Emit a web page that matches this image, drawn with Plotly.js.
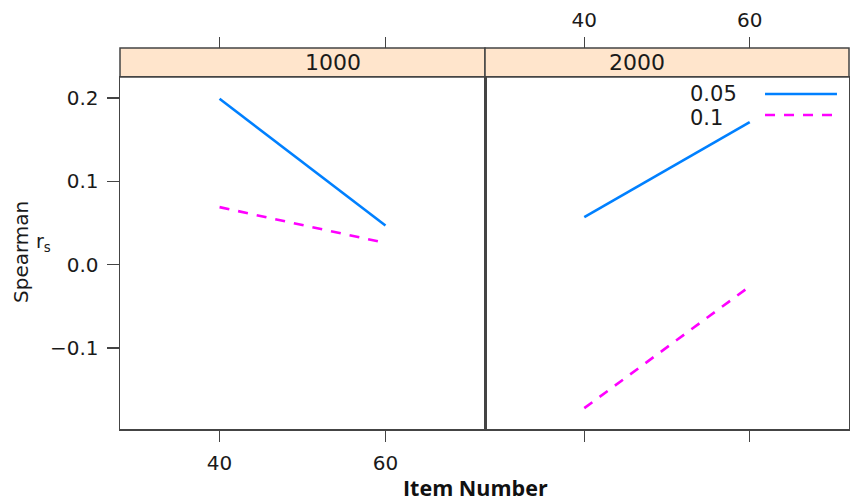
<!DOCTYPE html>
<html>
<head>
<meta charset="utf-8">
<script src="https://cdn.plot.ly/plotly-3.0.1.min.js"></script>
<style>html,body{margin:0;padding:0;background:#fff;}#chart{width:850px;height:504px;}</style>
</head>
<body>
<div id="chart"></div>
<script>
// ---- data ----
var itemNumber = [40, 60];
var panels = ["1000", "2000"];
var alphaLevels = ["0.05", "0.1"];
var rs_1000_005 = [0.199, 0.047];
var rs_1000_01  = [0.069, 0.026];
var rs_2000_005 = [0.057, 0.171];
var rs_2000_01  = [-0.172, -0.026];
var xTicks = [40, 60];
var yTicks = [-0.1, 0.0, 0.1, 0.2];
var yTickText = ["\u22120.1", "0.0", "0.1", "0.2"];

var blue = "#0080ff", magenta = "#ff00ff";
var axisCol = "#444444";
var tickFont = {family: "DejaVu Sans", size: 20, color: "#1a1a1a"};
var D1 = [0, 0.5007], D2 = [0.5007, 1];
var yTop = 352 / 381;
var xr = [28, 72], yr = [-0.197, 0.225];

function line(x, y, xa, ya, col, dash, name) {
  return {x: x, y: y, xaxis: xa, yaxis: ya, mode: "lines", name: name,
    line: {color: col, width: 2.6, dash: dash}, showlegend: false, hoverinfo: "skip"};
}
var dashPat = "10px,9px";
var data = [
  line(itemNumber, rs_1000_005, "x", "y", blue, "solid", alphaLevels[0]),
  line(itemNumber, rs_1000_01, "x", "y", magenta, dashPat, alphaLevels[1]),
  line(itemNumber, rs_2000_005, "x2", "y2", blue, "solid", alphaLevels[0]),
  line(itemNumber, rs_2000_01, "x2", "y2", magenta, dashPat, alphaLevels[1]),
  // carriers for the top (overlay) axes
  {x: itemNumber, y: rs_1000_005, xaxis: "x3", yaxis: "y", mode: "lines", line: {width: 0}, opacity: 0, showlegend: false, hoverinfo: "skip"},
  {x: itemNumber, y: rs_2000_005, xaxis: "x4", yaxis: "y2", mode: "lines", line: {width: 0}, opacity: 0, showlegend: false, hoverinfo: "skip"}
];

function xa(domain, anchor, labels) {
  return {domain: domain, anchor: anchor, range: xr, tickvals: xTicks, ticktext: xTicks.map(String),
    showticklabels: labels, ticks: "outside", ticklen: 11, tickwidth: 1.5, tickcolor: axisCol,
    showline: true, linecolor: axisCol, linewidth: 1.5, mirror: true, showgrid: false, zeroline: false,
    tickfont: tickFont, ticklabelstandoff: 4};
}
function xtop(over, labels) {
  return {overlaying: over, anchor: "free", position: 1, side: "top", range: xr, tickvals: xTicks,
    ticktext: xTicks.map(String), showticklabels: labels, ticks: "outside", ticklen: 11, tickwidth: 1.5,
    tickcolor: axisCol, showline: false, showgrid: false, zeroline: false, tickfont: tickFont, ticklabelstandoff: 2};
}

var layout = {
  width: 850, height: 504,
  margin: {l: 120, r: 1, t: 48, b: 75},
  paper_bgcolor: "#fff", plot_bgcolor: "#fff",
  xaxis: xa(D1, "y", true),
  xaxis2: xa(D2, "y2", false),
  xaxis3: xtop("x", false),
  xaxis4: xtop("x2", true),
  yaxis: {domain: [0, yTop], anchor: "x", range: yr, tickvals: yTicks, ticktext: yTickText,
    ticks: "outside", ticklen: 12, tickwidth: 1.5, tickcolor: axisCol, showline: true, linecolor: axisCol,
    linewidth: 1.5, mirror: true, showgrid: false, zeroline: false, tickfont: tickFont, ticklabelstandoff: 4},
  yaxis2: {domain: [0, yTop], anchor: "x2", range: yr, showticklabels: false, ticks: "",
    showline: true, linecolor: axisCol, linewidth: 1.5, mirror: true, showgrid: false, zeroline: false},
  shapes: [
    {type: "rect", xref: "paper", yref: "paper", x0: D1[0], x1: D1[1], y0: yTop, y1: 1,
      fillcolor: "#ffe5cc", line: {color: axisCol, width: 1.5}, layer: "below"},
    {type: "rect", xref: "paper", yref: "paper", x0: D2[0], x1: D2[1], y0: yTop, y1: 1,
      fillcolor: "#ffe5cc", line: {color: axisCol, width: 1.5}, layer: "below"},
    {type: "line", xref: "paper", yref: "paper", x0: 0.8848, x1: 0.9835, y0: 0.8793, y1: 0.8793,
      line: {color: blue, width: 2.6}},
    {type: "line", xref: "paper", yref: "paper", x0: 0.8848, x1: 0.9835, y0: 0.8241, y1: 0.8241,
      line: {color: magenta, width: 2.6, dash: dashPat}}
  ],
  annotations: [
    {text: panels[0], xref: "paper", yref: "paper", x: (D1[0] + D1[1]) / 2, y: (yTop + 1) / 2,
      showarrow: false, font: {family: "DejaVu Sans", size: 22, color: "#1a1a1a"}, yanchor: "middle"},
    {text: panels[1], xref: "paper", yref: "paper", x: (D2[0] + D2[1]) / 2, y: (yTop + 1) / 2,
      showarrow: false, font: {family: "DejaVu Sans", size: 22, color: "#1a1a1a"}, yanchor: "middle"},
    {text: alphaLevels[0], xref: "paper", yref: "paper", x: 0.779, y: 0.879, xanchor: "left", yanchor: "middle",
      showarrow: false, font: {family: "DejaVu Sans", size: 21, color: "#1a1a1a"}},
    {text: alphaLevels[1], xref: "paper", yref: "paper", x: 0.779, y: 0.817, xanchor: "left", yanchor: "middle",
      showarrow: false, font: {family: "DejaVu Sans", size: 21, color: "#1a1a1a"}},
    {text: "Spearman", xref: "paper", yref: "paper", x: -0.1358, y: 0.4646, textangle: -90,
      xanchor: "center", yanchor: "middle", showarrow: false, font: {family: "DejaVu Sans", size: 20, color: "#1a1a1a"}},
    {text: "r<sub>s</sub>", xref: "paper", yref: "paper", x: -0.1056, y: 0.4908,
      xanchor: "center", yanchor: "middle", showarrow: false, font: {family: "DejaVu Sans", size: 19, color: "#1a1a1a"}},
    {text: "<b>Item Number</b>", xref: "paper", yref: "paper", x: 0.4883, y: -0.153,
      xanchor: "center", yanchor: "middle", showarrow: false, font: {family: "Open Sans", size: 21.5, color: "#111"}}
  ]
};

Plotly.newPlot("chart", data, layout, {staticPlot: true, displayModeBar: false});
</script>
</body>
</html>
